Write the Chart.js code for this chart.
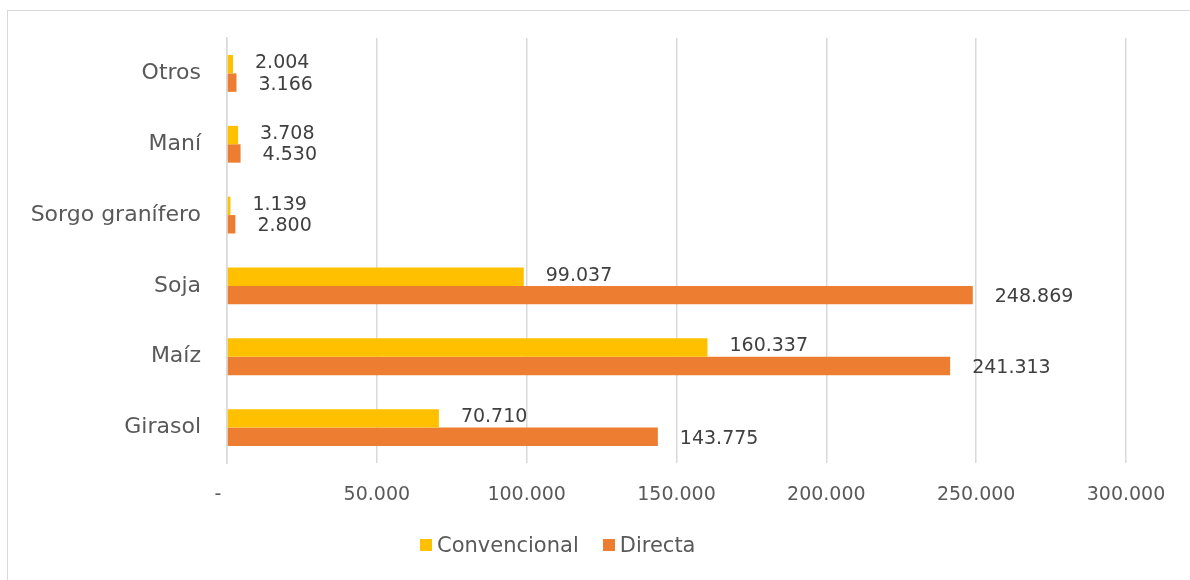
<!DOCTYPE html>
<html>
<head>
<meta charset="utf-8">
<script src="https://cdn.jsdelivr.net/npm/chart.js@4.4.1/dist/chart.umd.min.js"></script>
<style>
  body { margin: 0; background: #fff; }
  #wrap { position: relative; width: 1190px; height: 580px; overflow: hidden; }
  #frame { position: absolute; left: 7px; top: 10px; width: 1300px; height: 700px;
           border-left: 1.5px solid #d9d9d9; border-top: 1.5px solid #d9d9d9; }
  #chart { position: absolute; left: 0; top: 0; }
  #legend { position: absolute; left: 420px; top: 533px; font: 21px "DejaVu Sans"; color: #595959;
            display: flex; align-items: center; }
  #legend span.box { display: inline-block; width: 12px; height: 12px; margin-right: 5px; }
  #legend span.txt { margin-right: 24px; }
</style>
</head>
<body>
<div id="wrap">
  <div id="frame"></div>
  <canvas id="chart" width="1190" height="580"></canvas>
  <div id="legend"></div>
</div>
<script>
let categories = ['Otros', 'Maní', 'Sorgo granífero', 'Soja', 'Maíz', 'Girasol']
let convencional = [2004, 3708, 1139, 99037, 160337, 70710]
let directa = [3166, 4530, 2800, 248869, 241313, 143775]
let seriesNames = ['Convencional', 'Directa']
let seriesColors = ['#FFC000', '#ED7D31']
let xTicks = [0, 50000, 100000, 150000, 200000, 250000, 300000]

function fmt(v){
    return String(Math.round(v)).replace(/\B(?=(\d{3})+(?!\d))/g, '.')
}

// etiquetas de datos al final de cada barra
let valueLabels = {
    id: 'valueLabels',
    afterDatasetsDraw(chart){
        let ctx = chart.ctx
        ctx.save()
        ctx.font = '19px "DejaVu Sans"'
        ctx.fillStyle = '#404040'
        ctx.textAlign = 'left'
        ctx.textBaseline = 'middle'
        chart.data.datasets.forEach((ds, i) => {
            let meta = chart.getDatasetMeta(i)
            meta.data.forEach((bar, j) => {
                let dy = i == 0 ? -1 : 2
                ctx.fillText(fmt(ds.data[j]), bar.x + 22, bar.y + dy)
            })
        })
        ctx.restore()
    }
}

let legend = document.getElementById('legend')
seriesNames.forEach((name, i) => {
    legend.innerHTML += '<span class="box" style="background:' + seriesColors[i] + '"></span><span class="txt">' + name + '</span>'
})

let ctx = document.getElementById('chart').getContext('2d')
let chart = new Chart(ctx, {
    type: 'bar',
    data: {
        labels: categories,
        datasets: [
            { label: seriesNames[0], data: convencional, backgroundColor: seriesColors[0] },
            { label: seriesNames[1], data: directa, backgroundColor: seriesColors[1] }
        ]
    },
    options: {
        indexAxis: 'y',
        responsive: false,
        animation: false,
        categoryPercentage: 0.52,
        barPercentage: 1,
        layout: { padding: { left: 0, top: 38, right: 64, bottom: 67 } },
        plugins: { legend: { display: false }, tooltip: { enabled: false } },
        scales: {
            x: {
                min: 0, max: 300000,
                afterBuildTicks: s => { s.ticks = xTicks.map(v => ({ value: v })) },
                afterFit: s => { s.height = 50 },
                grid: { color: '#d9d9d9', lineWidth: 1.5, drawTicks: false },
                border: { display: false },
                ticks: {
                    padding: 21,
                    color: '#595959',
                    font: { family: 'DejaVu Sans', size: 19 },
                    callback: v => v == 0 ? '-   ' : fmt(v)
                }
            },
            y: {
                afterFit: s => { s.width = 227 },
                grid: { display: false },
                border: { color: '#d9d9d9', width: 1.5 },
                ticks: {
                    padding: 18,
                    color: '#595959',
                    font: { family: 'DejaVu Sans', size: 22 }
                }
            }
        }
    },
    plugins: [valueLabels]
})
</script>
</body>
</html>
